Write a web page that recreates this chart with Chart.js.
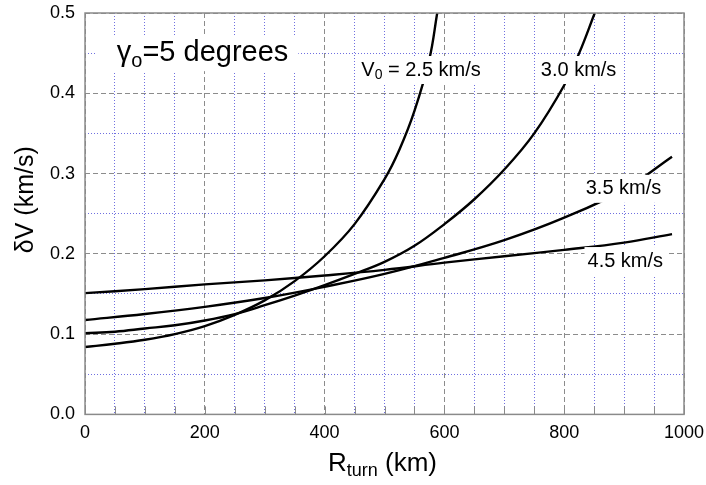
<!DOCTYPE html>
<html>
<head>
<meta charset="utf-8">
<script src="https://cdn.jsdelivr.net/npm/chart.js@4.4.0/dist/chart.umd.min.js"></script>
<style>
  html, body { margin: 0; padding: 0; background: #fff; }
  #wrap { width: 706px; height: 485px; }
</style>
</head>
<body>
<div id="wrap"><canvas id="chart"></canvas></div>
<script>
// R_turn (km) vs deltaV (km/s), one pair of arrays per V0
const rturn25 = [0, 50, 100, 150, 200, 250, 300, 350, 400, 450, 500, 525, 550, 575, 588];
const dv25    = [0.084, 0.088, 0.093, 0.100, 0.110, 0.124, 0.142, 0.166, 0.197, 0.237, 0.293, 0.330, 0.378, 0.443, 0.500];

const rturn30 = [0, 50, 100, 150, 200, 250, 300, 350, 400, 450, 500, 550, 600, 650, 700, 750, 800, 825, 851];
const dv30    = [0.101, 0.103, 0.107, 0.111, 0.117, 0.125, 0.136, 0.148, 0.161, 0.175, 0.190, 0.210, 0.237, 0.268, 0.305, 0.350, 0.410, 0.450, 0.500];

const rturn35 = [0, 100, 200, 300, 400, 500, 600, 700, 800, 900, 980];
const dv35    = [0.1175, 0.125, 0.134, 0.145, 0.159, 0.175, 0.195, 0.217, 0.245, 0.280, 0.321];

const rturn45 = [0, 100, 200, 300, 400, 500, 600, 700, 800, 900, 980];
const dv45    = [0.151, 0.156, 0.162, 0.167, 0.173, 0.180, 0.189, 0.197, 0.205, 0.214, 0.2246];

const xTickLabels = ['0', '200', '400', '600', '800', '1000'];
const yTickLabels = ['0.0', '0.1', '0.2', '0.3', '0.4', '0.5'];

const FONT = 'Arial, "Liberation Sans", Helvetica, sans-serif';

function pts(xs, ys) {
  return xs.map((x, i) => ({ x: x, y: ys[i] }));
}

function lineSet(xs, ys) {
  return {
    data: pts(xs, ys),
    borderColor: '#000',
    borderWidth: 2.4,
    pointRadius: 0,
    tension: 0.4,
    fill: false
  };
}

// text made of pieces, some of them subscripts
function drawRich(ctx, parts, left, mid, size) {
  let x = left;
  parts.forEach(p => {
    const s = p.sub ? Math.round(size * 0.7) : size;
    ctx.font = s + 'px ' + FONT;
    ctx.fillText(p.t, x, p.sub ? mid + size * 0.28 : mid);
    x += ctx.measureText(p.t).width;
  });
  return x - left;
}

function richWidth(ctx, parts, size) {
  let w = 0;
  parts.forEach(p => {
    const s = p.sub ? Math.round(size * 0.7) : size;
    ctx.font = s + 'px ' + FONT;
    w += ctx.measureText(p.t).width;
  });
  return w;
}

const curveLabels = [
  { parts: [{ t: 'V' }, { t: '0', sub: true }, { t: ' = 2.5 km/s' }], at: [561, 0.429] },
  { parts: [{ t: '3.0 km/s' }], at: [824, 0.429] },
  { parts: [{ t: '3.5 km/s' }], at: [899, 0.281] },
  { parts: [{ t: '4.5 km/s' }], at: [902, 0.191] }
];

const notes = {
  id: 'notes',
  afterDatasetsDraw(chart) {
    const ctx = chart.ctx;
    const xs = chart.scales.x, ys = chart.scales.y;
    const area = chart.chartArea;
    ctx.save();
    ctx.textBaseline = 'middle';
    ctx.fillStyle = '#000';

    // curve labels on white boxes
    curveLabels.forEach(l => {
      const size = 20;
      const w = richWidth(ctx, l.parts, size);
      const cx = xs.getPixelForValue(l.at[0]);
      const cy = ys.getPixelForValue(l.at[1]);
      ctx.fillStyle = '#fff';
      ctx.fillRect(cx - w / 2 - 3, cy - 14, w + 6, 28);
      ctx.fillStyle = '#000';
      drawRich(ctx, l.parts, cx - w / 2, cy, size);
    });

    // gamma label, top left
    const tParts = [{ t: 'γ' }, { t: 'o', sub: true }, { t: '=5 degrees' }];
    const tSize = 29;
    const tw = richWidth(ctx, tParts, tSize);
    const tx = xs.getPixelForValue(53);
    const ty = ys.getPixelForValue(0.45);
    ctx.fillStyle = '#fff';
    ctx.fillRect(tx - 20, ty - 18, tw + 30, 36);
    ctx.fillStyle = '#000';
    drawRich(ctx, tParts, tx, ty, tSize);

    // frame and inner ticks
    ctx.strokeStyle = '#8a8a8a';
    ctx.lineWidth = 1.5;
    ctx.setLineDash([]);
    ctx.strokeRect(area.left, area.top, area.right - area.left, area.bottom - area.top);
    ctx.lineWidth = 1;
    xs.ticks.forEach(t => {
      const px = Math.round(xs.getPixelForValue(t.value)) + 0.5;
      ctx.beginPath();
      ctx.moveTo(px, area.bottom);
      ctx.lineTo(px, area.bottom - 8);
      ctx.stroke();
    });
    ctx.restore();
  },
  afterDraw(chart) {
    const ctx = chart.ctx;
    const area = chart.chartArea;
    ctx.save();
    ctx.fillStyle = '#000';
    ctx.textBaseline = 'middle';

    // y axis title
    ctx.save();
    ctx.translate(26, (area.top + area.bottom) / 2 - 14);
    ctx.rotate(-Math.PI / 2);
    ctx.font = '25px ' + FONT;
    ctx.textAlign = 'center';
    ctx.fillText('δV (km/s)', 0, 0);
    ctx.restore();

    // x axis title
    const xParts = [{ t: 'R' }, { t: 'turn', sub: true }, { t: ' (km)' }];
    const size = 26;
    const w = richWidth(ctx, xParts, size);
    const cx = (area.left + area.right) / 2 - 2;
    drawRich(ctx, xParts, cx - w / 2, 464, size);
    ctx.restore();
  }
};

function isMajorX(v) { return v % 200 === 0; }
function isMajorY(v) { return Math.round(v * 100) % 10 === 0; }

// let the layout padding alone decide the plot box
function noOverflow(scale) {
  scale.paddingLeft = 0;
  scale.paddingRight = 0;
  scale.paddingTop = 0;
  scale.paddingBottom = 0;
}

const ctx = document.getElementById('chart').getContext('2d');
new Chart(ctx, {
  type: 'line',
  data: {
    datasets: [
      lineSet(rturn25, dv25),
      lineSet(rturn30, dv30),
      lineSet(rturn35, dv35),
      lineSet(rturn45, dv45)
    ]
  },
  options: {
    responsive: true,
    maintainAspectRatio: false,
    animation: false,
    layout: { padding: { left: 40, right: 22, top: 13, bottom: 33 } },
    plugins: {
      legend: { display: false },
      tooltip: { enabled: false }
    },
    scales: {
      x: {
        type: 'linear',
        min: 0,
        max: 1000,
        afterFit: noOverflow,
        ticks: {
          stepSize: 50,
          autoSkip: false,
          maxRotation: 0,
          padding: 8,
          color: '#000',
          font: { family: FONT, size: 18 },
          callback: v => isMajorX(v) ? xTickLabels[v / 200] : ''
        },
        grid: {
          drawTicks: false,
          lineWidth: 1,
          color: c => (c.tick && isMajorX(c.tick.value)) ? '#8c8c8c' : '#6f6fe0'
        },
        border: {
          display: false,
          dash: c => (c.tick && isMajorX(c.tick.value)) ? [5, 3] : [1, 2]
        }
      },
      y: {
        type: 'linear',
        min: 0,
        max: 0.5,
        afterFit: noOverflow,
        ticks: {
          stepSize: 0.05,
          autoSkip: false,
          padding: 10,
          color: '#000',
          font: { family: FONT, size: 18 },
          callback: v => isMajorY(v) ? yTickLabels[Math.round(v * 10)] : ''
        },
        grid: {
          drawTicks: false,
          lineWidth: 1,
          color: c => (c.tick && isMajorY(c.tick.value)) ? '#8c8c8c' : '#6f6fe0'
        },
        border: {
          display: false,
          dash: c => (c.tick && isMajorY(c.tick.value)) ? [5, 3] : [1, 2]
        }
      }
    }
  },
  plugins: [notes]
});
</script>
</body>
</html>
